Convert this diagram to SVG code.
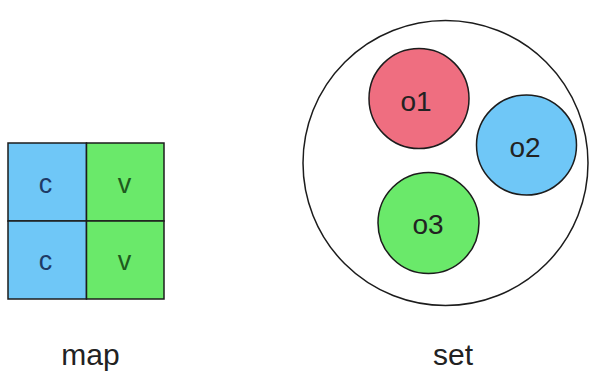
<svg xmlns="http://www.w3.org/2000/svg" width="598" height="374" viewBox="0 0 598 374">
<style>
.cell{stroke:#1c1c1c;stroke-width:1.5}
.blue{fill:#6fc7f7}
.green{fill:#6ae96a}
.red{fill:#ef6e80}
.t{font-family:"Liberation Sans",Arial,sans-serif;text-anchor:middle}
.ct{font-size:27px;fill:#1e3a66}
.vt{font-size:27px;fill:#1e5a1e}
.ot{font-size:28px;fill:#222}
.lbl{font-size:30px;fill:#222}
</style>
<rect width="598" height="374" fill="#fff"/>
<g id="map">
<rect id="c1" class="cell blue" x="8" y="143" width="78.5" height="78"/>
<rect id="v1" class="cell green" x="86.5" y="143" width="77.5" height="78"/>
<rect id="c2" class="cell blue" x="8" y="221" width="78.5" height="78"/>
<rect id="v2" class="cell green" x="86.5" y="221" width="77.5" height="78"/>
<text class="t ct" x="45.5" y="193">c</text>
<text class="t vt" x="124.5" y="193">v</text>
<text class="t ct" x="45.5" y="270">c</text>
<text class="t vt" x="124.5" y="270">v</text>
</g>
<g id="set">
<circle cx="445.5" cy="163" r="142.5" fill="#fff" stroke="#1c1c1c" stroke-width="1.5"/>
</g>
<g id="o1"><circle class="cell red" cx="419" cy="98.5" r="50"/><text class="t ot" x="416" y="111">o1</text></g>
<g id="o2"><circle class="cell blue" cx="526.5" cy="145" r="50"/><text class="t ot" x="525" y="157">o2</text></g>
<g id="o3"><circle class="cell green" cx="428.5" cy="223" r="50.5"/><text class="t ot" x="428" y="234">o3</text></g>
<g id="connectors"/>
<text class="t lbl" x="90.5" y="365">map</text>
<text class="t lbl" x="453" y="365">set</text>
</svg>
